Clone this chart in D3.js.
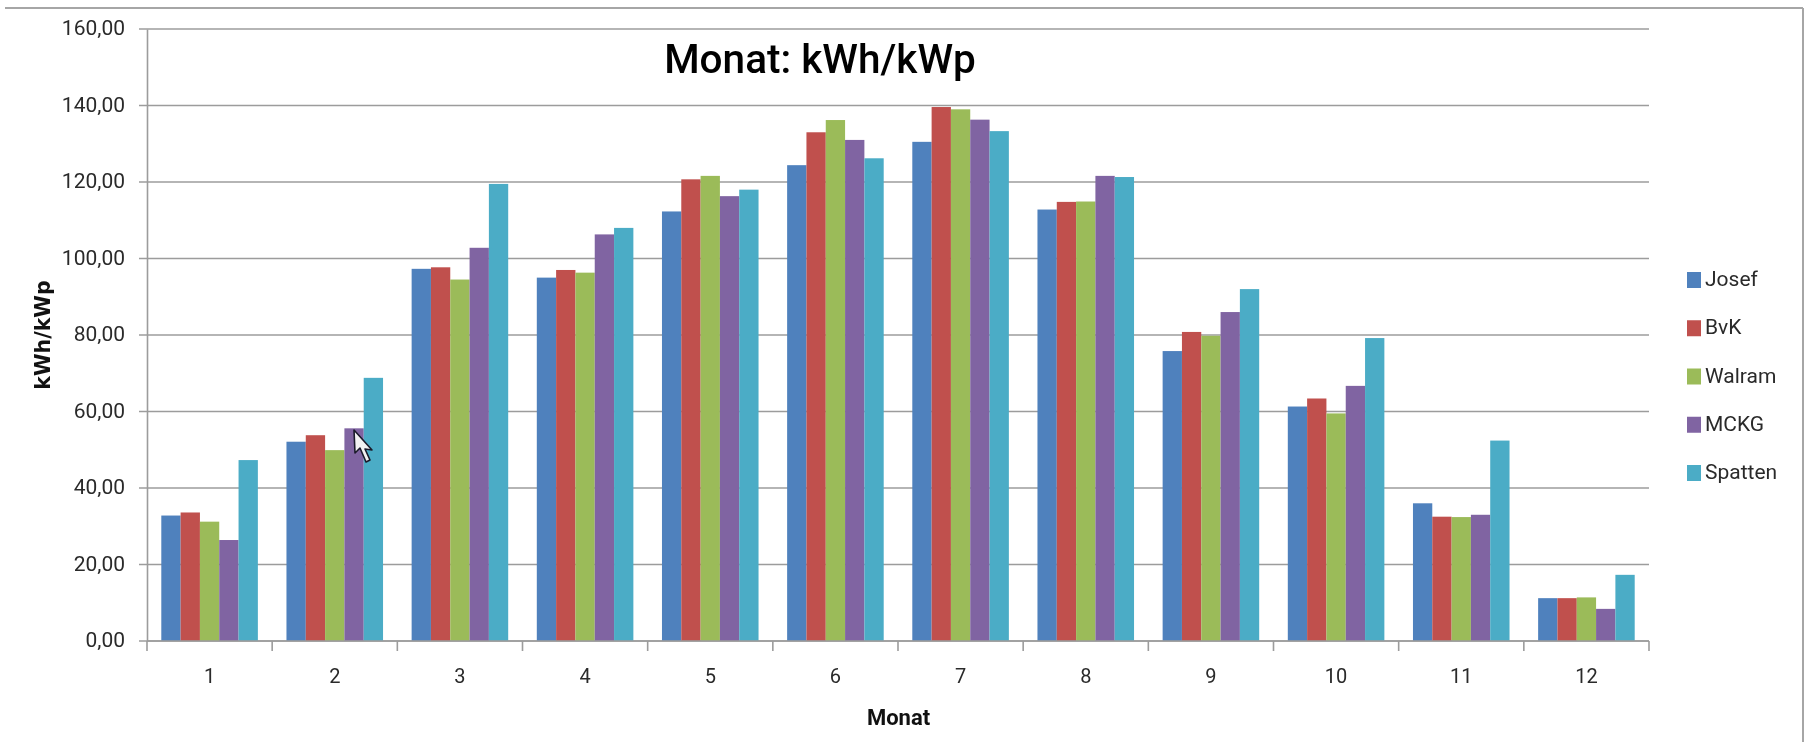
<!DOCTYPE html>
<html lang="de">

<head>
    <meta charset="UTF-8">
    <script src="https://d3js.org/d3.v7.min.js"></script>
    <title>Monat: kWh/kWp</title>
    <style>
        html, body { margin: 0; padding: 0; background: #fff; overflow: hidden; }
        svg { display: block; filter: blur(0.5px); }
        text { font-family: Roboto, sans-serif; fill: #2a2a2a; }
    </style>
</head>

<body>
    <div id="chart"></div>

    <script>
        var months = ["1", "2", "3", "4", "5", "6", "7", "8", "9", "10", "11", "12"];
        var seriesNames = ["Josef", "BvK", "Walram", "MCKG", "Spatten"];
        var colors = ["#4f81bd", "#c0504d", "#9bbb59", "#8064a2", "#4bacc6"];
        var yTicks = [0, 20, 40, 60, 80, 100, 120, 140, 160];

        var josef = [32.8, 52.1, 97.3, 95.0, 112.3, 124.4, 130.5, 112.8, 75.8, 61.3, 36.0, 11.2];
        var bvk = [33.6, 53.8, 97.7, 97.0, 120.7, 133.0, 139.6, 114.8, 80.8, 63.4, 32.5, 11.2];
        var walram = [31.2, 49.9, 94.5, 96.3, 121.6, 136.2, 139.0, 114.9, 79.8, 59.5, 32.4, 11.4];
        var mckg = [26.4, 55.6, 102.8, 106.3, 116.3, 131.0, 136.3, 121.6, 86.0, 66.7, 33.0, 8.4];
        var spatten = [47.3, 68.8, 119.5, 108.0, 118.0, 126.2, 133.3, 121.3, 92.0, 79.2, 52.4, 17.3];
        var values = [josef, bvk, walram, mckg, spatten];

        var width = 1808,
            height = 742,
            margin = { top: 29, right: 159, bottom: 101, left: 147 };
        var plotW = width - margin.left - margin.right,
            plotH = height - margin.top - margin.bottom;

        var svg = d3.select("#chart").append("svg")
            .attr("width", width)
            .attr("height", height);

        // window frame, only top and right edge are visible
        svg.append("line").attr("x1", 5).attr("x2", 1803).attr("y1", 8).attr("y2", 8)
            .attr("stroke", "#a6a6a6").attr("stroke-width", 2);
        svg.append("line").attr("x1", 1803).attr("x2", 1803).attr("y1", 8).attr("y2", height)
            .attr("stroke", "#a6a6a6").attr("stroke-width", 2);

        var g = svg.append("g")
            .attr("transform", "translate(" + margin.left + "," + margin.top + ")");

        var x = d3.scaleBand().domain(months).range([0, plotW]).paddingInner(0).paddingOuter(0);
        var x1 = d3.scaleBand().domain(d3.range(seriesNames.length))
            .range([14.3, x.bandwidth() - 14.3]);
        var y = d3.scaleLinear().domain([0, 160]).range([plotH, 0]);

        // gridlines
        g.append("g").selectAll("line")
            .data(yTicks)
            .enter()
            .append("line")
            .attr("x1", -8)
            .attr("x2", plotW)
            .attr("y1", function (d) { return y(d); })
            .attr("y2", function (d) { return y(d); })
            .attr("stroke", "#9c9c9c")
            .attr("stroke-width", 1.6);

        // bars
        var groups = g.selectAll("g.month")
            .data(months)
            .enter()
            .append("g")
            .attr("class", "month")
            .attr("transform", function (d) { return "translate(" + x(d) + ",0)"; });

        groups.selectAll("rect")
            .data(function (d, i) {
                return values.map(function (s, k) { return { k: k, v: s[i] }; });
            })
            .enter()
            .append("rect")
            .attr("x", function (d) { return x1(d.k); })
            .attr("y", function (d) { return y(d.v); })
            .attr("width", x1.bandwidth())
            .attr("height", function (d) { return plotH - y(d.v); })
            .attr("fill", function (d) { return colors[d.k]; });

        // axes
        var yAxis = g.append("g")
            .call(d3.axisLeft(y).tickValues(yTicks).tickSize(0).tickPadding(22)
                .tickFormat(function (d) { return d3.format(".2f")(d).replace(".", ","); }));
        yAxis.select(".domain").attr("stroke", "#9c9c9c").attr("stroke-width", 1.6);
        yAxis.selectAll("text").attr("font-size", 21).attr("dy", "0.27em")
            .style("font-family", "Roboto, sans-serif");

        var xAxis = g.append("g")
            .attr("transform", "translate(0," + plotH + ")")
            .call(d3.axisBottom(x).tickSize(0).tickPadding(28));
        xAxis.select(".domain").remove();
        xAxis.selectAll("text").attr("font-size", 20).style("font-family", "Roboto, sans-serif");
        g.append("line").attr("x1", 0).attr("x2", plotW).attr("y1", plotH).attr("y2", plotH)
            .attr("stroke", "#9c9c9c").attr("stroke-width", 1.6);
        g.append("g").selectAll("line")
            .data(months.concat(["end"]))
            .enter()
            .append("line")
            .attr("x1", function (d, i) { return i * x.step(); })
            .attr("x2", function (d, i) { return i * x.step(); })
            .attr("y1", plotH)
            .attr("y2", plotH + 10)
            .attr("stroke", "#9c9c9c")
            .attr("stroke-width", 1.6);

        // titles
        svg.append("text")
            .attr("x", 820).attr("y", 73)
            .attr("text-anchor", "middle")
            .attr("font-size", 40.5)
            .attr("font-weight", 500)
            .style("fill", "#000")
            .text("Monat: kWh/kWp");

        svg.append("text")
            .attr("x", 898.5).attr("y", 725)
            .attr("text-anchor", "middle")
            .attr("font-size", 22)
            .attr("font-weight", 700)
            .style("fill", "#111")
            .text("Monat");

        svg.append("text")
            .attr("transform", "translate(50,335)rotate(-90)")
            .attr("text-anchor", "middle")
            .attr("font-size", 20.5)
            .attr("font-weight", 700)
            .style("font-family", "'DejaVu Sans', sans-serif")
            .style("fill", "#111")
            .text("kWh/kWp");

        // legend
        var legendY = d3.scalePoint().domain(seriesNames).range([280, 473]);
        var legend = svg.append("g").selectAll("g")
            .data(seriesNames)
            .enter()
            .append("g")
            .attr("transform", function (d) { return "translate(1687," + legendY(d) + ")"; });
        legend.append("rect")
            .attr("x", 0).attr("y", -8)
            .attr("width", 14).attr("height", 16)
            .attr("fill", function (d, i) { return colors[i]; });
        legend.append("text")
            .attr("x", 18).attr("y", 6)
            .attr("font-size", 21)
            .text(function (d) { return d; });

        // mouse pointer caught in the screenshot
        svg.append("path")
            .attr("transform", "translate(354,430)")
            .attr("d", "M0,0 L1,23 L6,18 L12,32 L16,30 L11,19 L18,20 Z")
            .attr("fill", "#f2f2f2")
            .attr("stroke", "#1a1a2a")
            .attr("stroke-width", 1.6)
            .attr("stroke-linejoin", "round");
    </script>
</body>

</html>
